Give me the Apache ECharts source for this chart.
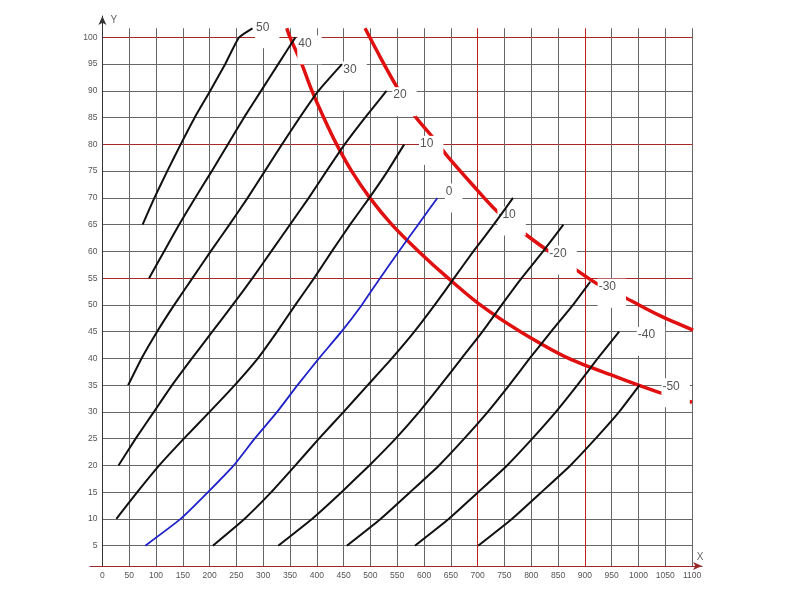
<!DOCTYPE html>
<html><head><meta charset="utf-8">
<script src="https://cdn.jsdelivr.net/npm/echarts@6/dist/echarts.min.js"></script>
<style>html,body{margin:0;padding:0;background:#fff}#c{width:794px;height:595px}</style>
</head><body><div id="c"></div>
<script>
// ---- tick labels ----
const xTickLabels = [0,50,100,150,200,250,300,350,400,450,500,550,600,650,700,750,800,850,900,950,1000,1050,1100];
const yTickLabels = [5,10,15,20,25,30,35,40,45,50,55,60,65,70,75,80,85,90,95,100];
const redXLines = [700, 900];
const redYLines = [55, 80, 100];

// ---- family of curves (x values, y values) ----
const c50X  = [75,97,121,146,172,201,229,255,280];
const c50Y  = [65,70,75,80,85,90,95,100,101.7];
const c40X  = [87,115,143,173,204,234,264,296,328,360];
const c40Y  = [55,60,65,70,75,80,85,90,95,100];
const c30X  = [48,73,102,134,168,202,237,271,303,335,368,403,447];
const c30Y  = [35,40,45,50,55,60,65,70,75,80,85,90,95];
const c20X  = [30,62,96,130,167,205,243,280,315,350,385,418,452,490,530];
const c20Y  = [20,25,30,35,40,45,50,55,60,65,70,75,80,85,90];
const c10X  = [26,65,106,152,200,247,290,326,360,395,428,462,498,532,563];
const c10Y  = [10,15,20,25,30,35,40,45,50,55,60,65,70,75,80];
const c0X   = [80,146,197,245,284,326,364,404,446,484,518,553,589,625];
const c0Y   = [5,10,15,20,25,30,35,40,45,50,55,60,65,70];
const cm10X = [206,265,315,360,404,450,495,540,582,620,656,692,730,766];
const cm10Y = [5,10,15,20,25,30,35,40,45,50,55,60,65,70];
const cm20X = [328,391,446,498,547,591,631,670,709,745,782,822,860];
const cm20Y = [5,10,15,20,25,30,35,40,45,50,55,60,65];
const cm30X = [456,519,574,628,675,719,759,797,837,878,910];
const cm30Y = [5,10,15,20,25,30,35,40,45,50,54.3];
const cm40X = [583,646,701,755,802,846,886,924,964];
const cm40Y = [5,10,15,20,25,30,35,40,45];
const cm50X = [701,764,819,873,920,964,1002];
const cm50Y = [5,10,15,20,25,30,35];

// ---- red curves ----
const red1X = [344,350,372,391,413,437,465,499,540,590,645,705,780,870,960,1000,1043,1100];
const red1Y = [101.7,100,95,90,85,80,75,70,65,60,55,50,45,40,36.5,35,33.5,31.8];
const red2X = [490,520,549,583,614,642,690,736,788,833,886,922,978,1040,1102];
const red2Y = [101.7,96,90.8,85.3,81.6,78,72.5,67.5,63.3,60,56.4,54,51.2,48,45.3];

// ---- curve labels ----
const labelText = ['50','40','30','20','10','0','-10','-20','-30','-40','-50'];
const labelX = [299,378,462,555,605,647,755,850,942,1015,1061];
const labelY = [101.9,98.9,94.0,89.2,80.1,71.2,66.9,59.6,53.4,44.4,34.8];

function pairs(xs, ys){ return xs.map((x,i)=>[x, ys[i]]); }

const blackCurves = [
  [c50X,c50Y],[c40X,c40Y],[c30X,c30Y],[c20X,c20Y],[c10X,c10Y],
  [cm10X,cm10Y],[cm20X,cm20Y],[cm30X,cm30Y],[cm40X,cm40Y],[cm50X,cm50Y]
];

const series = [];
series.push({type:'line', data:pairs(red1X,red1Y), symbol:'none', smooth:0.3, lineStyle:{color:'#e01010', width:3.5}, z:2, silent:true});
series.push({type:'line', data:pairs(red2X,red2Y), symbol:'none', smooth:0.3, lineStyle:{color:'#e01010', width:3.5}, z:2, silent:true});
series.push({
  type:'custom', z:3, clip:false, silent:true,
  data: labelX.map((x,i)=>[x, labelY[i]]),
  renderItem: function(params, api){
    const p = api.coord([api.value(0), api.value(1)]);
    const t = labelText[params.dataIndex];
    const w = t.replace('-','').length*6.7 + (t.indexOf('-')>=0?4:0);
    return {type:'group', children:[
      {type:'rect', shape:{x:p[0]-w/2-1, y:p[1]-8, width:w+11, height:29}, style:{fill:'#fff'}},
      {type:'text', x:p[0], y:p[1], style:{text:t, fill:'#555', font:'12px "Liberation Sans", Arial, sans-serif',
        textAlign:'center', textVerticalAlign:'middle'}}
    ]};
  }
});
blackCurves.forEach(([xs,ys])=>{
  series.push({type:'line', data:pairs(xs,ys), symbol:'none', smooth:0.15,
    lineStyle:{color:'#111', width:2}, z:5, silent:true});
});
series.push({type:'line', data:pairs(c0X,c0Y), symbol:'none', smooth:0.15, lineStyle:{color:'#1f22c8', width:1.8}, z:5, silent:true});

const xSplitColor = (function(){
  const arr=[]; const ticks=[...xTickLabels, 1102];
  ticks.forEach(v=>{ if(v===1102) arr.push('rgba(0,0,0,0)'); else if(redXLines.includes(v)) arr.push('#c02020'); else arr.push('#666'); });
  return arr;})();
const ySplitColor = (function(){
  const arr=['rgba(0,0,0,0)'];
  yTickLabels.forEach(v=>{ arr.push(redYLines.includes(v)?'#a82828':'#666'); });
  arr.push('rgba(0,0,0,0)');
  return arr;})();

const chart = echarts.init(document.getElementById('c'), null, {renderer:'canvas'});
chart.setOption({
  animation:false,
  backgroundColor:'#fff',
  grid:[
    {left:102.4, right:100.9, top:28.3, bottom:29, containLabel:false},
    {left:90, right:92, top:16, bottom:29, containLabel:false}
  ],
  xAxis:[
    {type:'value', gridIndex:0, min:0, max:1102, splitNumber:22,
     axisLine:{show:false}, axisTick:{show:false},
     axisLabel:{margin:5, fontSize:8.5, color:'#555', fontFamily:'Liberation Sans, Arial, sans-serif',
       formatter:v=> xTickLabels.includes(v)? String(v):''},
     splitLine:{show:true, lineStyle:{color:xSplitColor, width:1}}},
    {type:'value', gridIndex:1, min:0, max:1, name:'X', nameLocation:'end', nameGap:-2,
     nameTextStyle:{color:'#666', fontSize:10, verticalAlign:'bottom', align:'center', padding:[0,0,4,0]},
     axisLine:{show:true, onZero:false, symbol:['none','arrow'], symbolSize:[6,9], lineStyle:{color:'#9a2a2a', width:1}},
     axisTick:{show:false}, axisLabel:{show:false}, splitLine:{show:false}}
  ],
  yAxis:[
    {type:'value', gridIndex:0, min:1.2, max:101.7, splitNumber:20,
     axisLine:{show:false}, axisTick:{show:false},
     axisLabel:{margin:5, fontSize:8.5, color:'#555', fontFamily:'Liberation Sans, Arial, sans-serif',
       formatter:v=> yTickLabels.includes(v)? String(v):''},
     splitLine:{show:true, lineStyle:{color:ySplitColor, width:1}}},
    {type:'value', gridIndex:1, min:0, max:1, offset:-12.4, name:'Y', nameLocation:'end', nameGap:-4,
     nameTextStyle:{color:'#666', fontSize:10, align:'left', verticalAlign:'middle', padding:[0,0,0,8]},
     axisLine:{show:true, onZero:false, symbol:['none','arrow'], symbolSize:[6,9], lineStyle:{color:'#333', width:1}},
     axisTick:{show:false}, axisLabel:{show:false}, splitLine:{show:false}}
  ],
  series: series
});
</script>
</body></html>
